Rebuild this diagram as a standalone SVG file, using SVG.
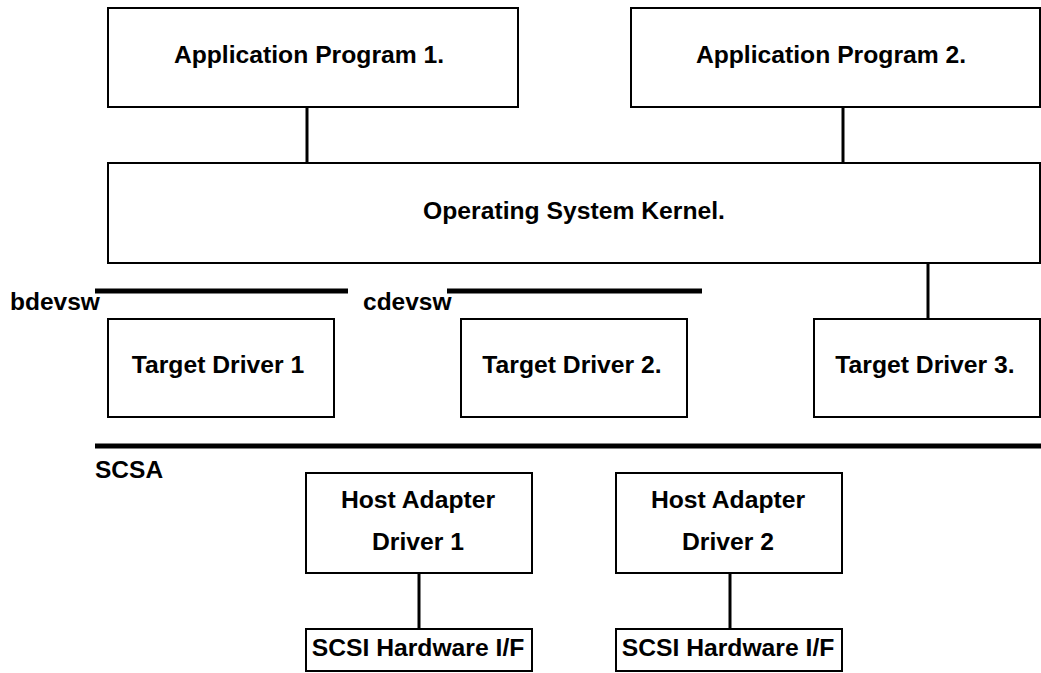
<svg xmlns="http://www.w3.org/2000/svg" width="1041" height="673" viewBox="0 0 1041 673">
<style>
.box{fill:#fff;stroke:#000;stroke-width:2}
.t{font-family:"Liberation Sans",Arial,sans-serif;font-weight:bold;font-size:24.7px;fill:#000;text-anchor:middle}
.lbl{font-family:"Liberation Sans",Arial,sans-serif;font-weight:bold;font-size:24.5px;fill:#000}
.c{stroke:#000;stroke-width:3;fill:none}
.bar{stroke:#000;stroke-width:5;fill:none}
</style>
<rect width="1041" height="673" fill="#fff"/>
<g id="connectors">
<line class="c" x1="307" y1="107" x2="307" y2="163"/>
<line class="c" x1="843" y1="107" x2="843" y2="163"/>
<line class="c" x1="928" y1="263" x2="928" y2="319"/>
<line class="c" x1="419" y1="573" x2="419" y2="629"/>
<line class="c" x1="730" y1="573" x2="730" y2="629"/>
</g>
<g id="bdevsw">
<line class="bar" x1="95" y1="291" x2="348" y2="291"/>
<text class="lbl" x="10" y="310">bdevsw</text>
</g>
<g id="cdevsw">
<line class="bar" x1="447" y1="291" x2="702" y2="291"/>
<text class="lbl" x="363" y="310">cdevsw</text>
</g>
<g id="scsa">
<line class="bar" x1="95" y1="446" x2="1041" y2="446"/>
<text class="lbl" x="95" y="478">SCSA</text>
</g>
<g id="app1">
<rect class="box" x="108" y="8" width="410" height="99"/>
<text class="t" x="309" y="63">Application Program 1.</text>
</g>
<g id="app2">
<rect class="box" x="631" y="8" width="409" height="99"/>
<text class="t" x="831" y="63">Application Program 2.</text>
</g>
<g id="kernel">
<rect class="box" x="108" y="163" width="932" height="100"/>
<text class="t" x="574" y="219">Operating System Kernel.</text>
</g>
<g id="td1">
<rect class="box" x="108" y="319" width="226" height="98"/>
<text class="t" x="218" y="373">Target Driver 1</text>
</g>
<g id="td2">
<rect class="box" x="461" y="319" width="226" height="98"/>
<text class="t" x="572" y="373">Target Driver 2.</text>
</g>
<g id="td3">
<rect class="box" x="814" y="319" width="226" height="98"/>
<text class="t" x="925" y="373">Target Driver 3.</text>
</g>
<g id="had1">
<rect class="box" x="306" y="473" width="226" height="100"/>
<text class="t" x="418" y="508">Host Adapter</text>
<text class="t" x="418" y="550">Driver 1</text>
</g>
<g id="had2">
<rect class="box" x="616" y="473" width="226" height="100"/>
<text class="t" x="728" y="508">Host Adapter</text>
<text class="t" x="728" y="550">Driver 2</text>
</g>
<g id="hw1">
<rect class="box" x="306" y="629" width="226" height="42"/>
<text class="t" x="418" y="656">SCSI Hardware I/F</text>
</g>
<g id="hw2">
<rect class="box" x="616" y="629" width="226" height="42"/>
<text class="t" x="728" y="656">SCSI Hardware I/F</text>
</g>
</svg>
